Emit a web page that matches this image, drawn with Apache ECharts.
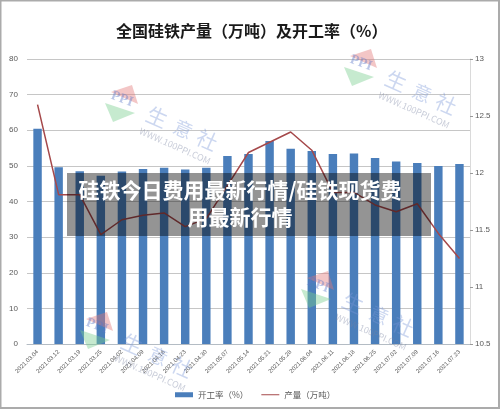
<!DOCTYPE html>
<html><head><meta charset="utf-8">
<style>html,body{margin:0;padding:0;background:#fff}#c{width:500px;height:409px}</style>
<script src="https://cdn.jsdelivr.net/npm/echarts@6/dist/echarts.min.js"></script>
</head><body><div id="c"></div>
<script>
const categories = ['2021.03.04','2021.03.12','2021.03.19','2021.03.25','2021.04.02','2021.04.09','2021.04.16','2021.04.23','2021.04.30','2021.05.07','2021.05.14','2021.05.21','2021.05.28','2021.06.04','2021.06.11','2021.06.18','2021.06.25','2021.07.02','2021.07.09','2021.07.16','2021.07.23'];
const operatingRate = [60.4,49.6,48.5,47.2,48.4,49.1,49.5,49.0,49.5,52.8,53.3,57.0,54.8,54.2,53.3,53.5,52.2,51.2,50.8,50.0,50.5];
const output = [12.60,11.81,11.81,11.46,11.59,11.63,11.65,11.53,11.60,11.89,12.18,12.27,12.36,12.20,11.83,11.83,11.72,11.66,11.73,11.47,11.25];
const FONT = '"Noto Sans CJK SC","Noto Sans",sans-serif';
const TEXTC = '#595959';

function watermark(dx, dy) {
  const z = 50;
  const poly = (pts, fill) => ({type:'polygon', z, silent:true, shape:{points:pts.map(p=>[p[0]+dx,p[1]+dy])}, style:{fill}});
  const txt = (x,y,t,size,fill,weight) => ({type:'text', z, silent:true, x:x+dx, y:y+dy, rotation:-0.42,
    style:{text:t, fill, font:(weight||'normal')+' '+size+'px '+FONT, align:'center', verticalAlign:'middle'}});
  return [
    poly([[111,92],[132,85],[138,104]], 'rgba(226,120,120,0.42)'),
    poly([[105,103],[135,113],[113,122]], 'rgba(120,205,140,0.42)'),
    {type:'text', z, silent:true, x:122+dx, y:99+dy, rotation:-0.35,
      style:{text:'PPI', fill:'rgba(90,120,200,0.42)', font:'bold 14px "Liberation Serif",serif', align:'center', verticalAlign:'middle'}},
    txt(157,117,'生',21,'rgba(120,150,215,0.38)'),
    txt(183,129,'意',19,'rgba(120,150,215,0.38)'),
    txt(207,140,'社',21,'rgba(120,150,215,0.38)'),
    txt(175,146,'WWW.100PPI.COM',9,'rgba(120,130,160,0.4)')
  ];
}

const chart = echarts.init(document.getElementById('c'), null, {renderer:'canvas'});
chart.setOption({
  animation:false,
  backgroundColor:'#fff',
  title:{text:'全国硅铁产量（万吨）及开工率（%）', left:111, top:18,
    textStyle:{fontFamily:FONT, fontSize:16, fontWeight:'bold', color:'#1a1a1a'}},
  grid:{left:27, right:30, top:59, bottom:65},
  legend:{bottom:5, left:170, itemGap:13, itemWidth:18, itemHeight:5,
    textStyle:{fontFamily:FONT, fontSize:8.5, color:TEXTC},
    data:[{name:'开工率（%）', icon:'rect'},{name:'产量（万吨）', icon:'path://M0 0H18V1H0Z'}]},
  xAxis:{type:'category', data:categories, axisTick:{show:false},
    axisLine:{lineStyle:{color:'#b4bcc4',width:1}},
    axisLabel:{interval:0, rotate:45, fontSize:6, color:TEXTC, margin:7, fontFamily:'"Liberation Sans",sans-serif'}},
  yAxis:[
    {type:'value', min:0, max:80, interval:10, axisLine:{show:false}, axisTick:{show:false},
      splitLine:{lineStyle:{color:'#c6c6c6',width:1}},
      axisLabel:{fontSize:8, color:TEXTC, margin:9, fontFamily:'"Liberation Sans",sans-serif'}},
    {type:'value', position:'right', min:10.5, max:13, interval:0.5, splitLine:{show:false},
      axisLine:{show:true, lineStyle:{color:'#dadada'}},
      axisTick:{show:true, length:3, lineStyle:{color:'#999'}},
      axisLabel:{fontSize:8, color:TEXTC, margin:5, fontFamily:'"Liberation Sans",sans-serif'}}
  ],
  series:[
    {name:'开工率（%）', type:'bar', data:operatingRate, barWidth:'40%', itemStyle:{color:'#4a7ebb'}},
    {name:'产量（万吨）', type:'line', yAxisIndex:1, data:output, showSymbol:false, symbol:'none', z:5,
      lineStyle:{color:'#a5484a', width:1.5}, itemStyle:{color:'#a5484a'}}
  ],
  graphic:{elements:[
    ...watermark(0,0), ...watermark(239,-36), ...watermark(-25,227), ...watermark(196,186),
    {type:'rect', z:100, silent:true, shape:{x:67,y:173,width:364,height:63}, style:{fill:'rgba(0,0,0,0.42)'}},
    {type:'text', z:101, silent:true, x:240, y:190, style:{text:'硅铁今日费用最新行情/硅铁现货费', fill:'#fff', font:'bold 21px '+FONT, align:'center', verticalAlign:'middle'}},
    {type:'text', z:101, silent:true, x:240, y:217, style:{text:'用最新行情', fill:'#fff', font:'bold 21px '+FONT, align:'center', verticalAlign:'middle'}},
    {type:'rect', z:102, silent:true, shape:{x:0.5,y:0.5,width:498.5,height:407.5}, style:{fill:'none', stroke:'#ababab', lineWidth:2}}
  ]}
});
</script></body></html>
